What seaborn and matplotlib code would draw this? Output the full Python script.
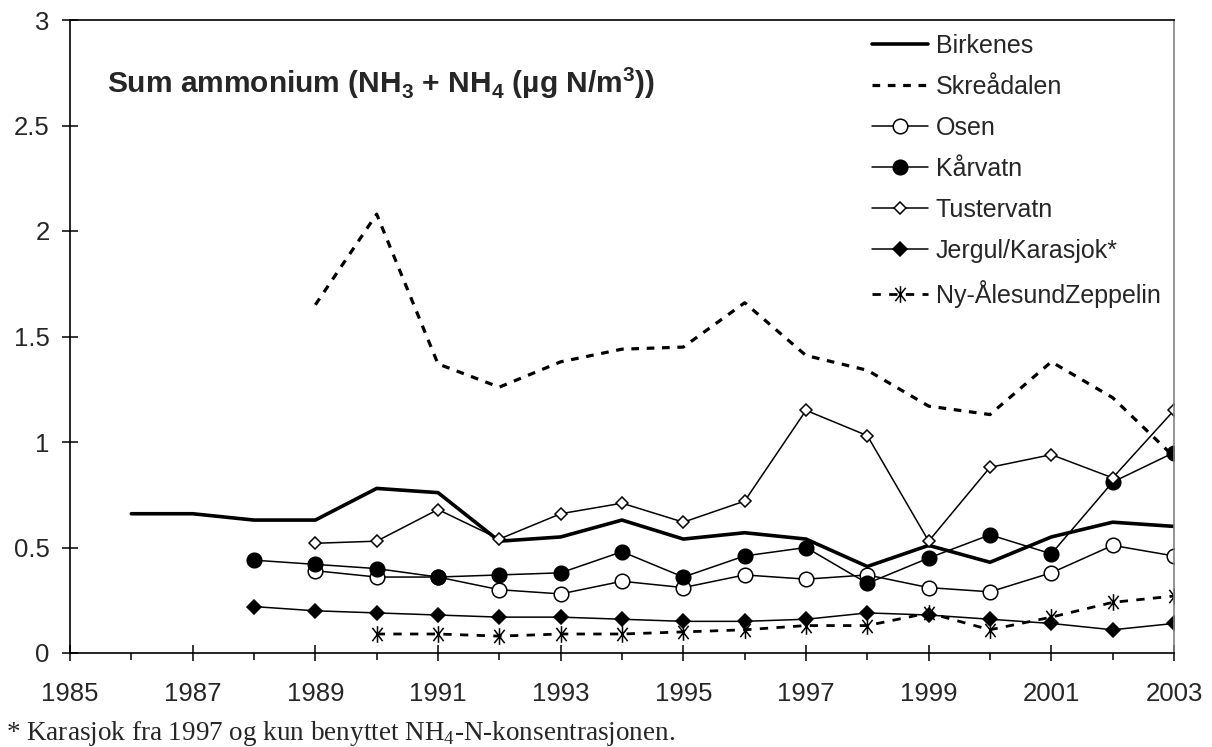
import numpy as np
import pandas as pd
import matplotlib
matplotlib.use("Agg")
import matplotlib.pyplot as plt
from matplotlib.path import Path
from matplotlib.ticker import FixedLocator, FuncFormatter
import seaborn as sns

# data (ug N/m3)
years_birkenes = [1986, 1987, 1988, 1989, 1990, 1991, 1992, 1993, 1994, 1995, 1996, 1997, 1998, 1999, 2000, 2001, 2002, 2003]
birkenes = [0.66, 0.66, 0.63, 0.63, 0.78, 0.76, 0.53, 0.55, 0.63, 0.54, 0.57, 0.54, 0.41, 0.51, 0.43, 0.55, 0.62, 0.60]

years_skreaadalen = [1989, 1990, 1991, 1992, 1993, 1994, 1995, 1996, 1997, 1998, 1999, 2000, 2001, 2002, 2003]
skreaadalen = [1.65, 2.08, 1.37, 1.26, 1.38, 1.44, 1.45, 1.66, 1.41, 1.34, 1.17, 1.13, 1.38, 1.21, 0.93]

years_osen = [1989, 1990, 1991, 1992, 1993, 1994, 1995, 1996, 1997, 1998, 1999, 2000, 2001, 2002, 2003]
osen = [0.39, 0.36, 0.36, 0.30, 0.28, 0.34, 0.31, 0.37, 0.35, 0.37, 0.31, 0.29, 0.38, 0.51, 0.46]

years_kaarvatn = [1988, 1989, 1990, 1991, 1992, 1993, 1994, 1995, 1996, 1997, 1998, 1999, 2000, 2001, 2002, 2003]
kaarvatn = [0.44, 0.42, 0.40, 0.36, 0.37, 0.38, 0.48, 0.36, 0.46, 0.50, 0.33, 0.45, 0.56, 0.47, 0.81, 0.95]

years_tustervatn = [1989, 1990, 1991, 1992, 1993, 1994, 1995, 1996, 1997, 1998, 1999, 2000, 2001, 2002, 2003]
tustervatn = [0.52, 0.53, 0.68, 0.54, 0.66, 0.71, 0.62, 0.72, 1.15, 1.03, 0.53, 0.88, 0.94, 0.83, 1.15]

years_jergul = [1988, 1989, 1990, 1991, 1992, 1993, 1994, 1995, 1996, 1997, 1998, 1999, 2000, 2001, 2002, 2003]
jergul = [0.22, 0.20, 0.19, 0.18, 0.17, 0.17, 0.16, 0.15, 0.15, 0.16, 0.19, 0.18, 0.16, 0.14, 0.11, 0.14]

years_nyaalesund = [1990, 1991, 1992, 1993, 1994, 1995, 1996, 1997, 1998, 1999, 2000, 2001, 2002, 2003]
nyaalesund = [0.09, 0.09, 0.08, 0.09, 0.09, 0.10, 0.11, 0.13, 0.13, 0.19, 0.11, 0.17, 0.24, 0.27]

sns.set_style("white")
plt.rcParams['font.family'] = ['Liberation Sans', 'DejaVu Sans']
plt.rcParams['mathtext.fontset'] = 'custom'
plt.rcParams['mathtext.rm'] = 'Liberation Serif'
plt.rcParams['mathtext.bf'] = 'Liberation Sans:bold'

# asterisk marker: vertical bar + X
star = Path([(0, -1), (0, 1), (-0.62, -0.8), (0.62, 0.8), (-0.62, 0.8), (0.62, -0.8)],
            [Path.MOVETO, Path.LINETO] * 3)

fig = plt.figure(figsize=(12.12, 7.47), dpi=100)
ax = fig.add_axes([70 / 1212, 94 / 747, 1104 / 1212, 633 / 747])

series = [
    ("Birkenes", years_birkenes, birkenes,
     dict(linewidth=2.6, linestyle='-', marker=None)),
    ("Skreådalen", years_skreaadalen, skreaadalen,
     dict(linewidth=2.3, linestyle=(0, (2.4, 2.4)), marker=None)),
    ("Osen", years_osen, osen,
     dict(linewidth=1.1, marker='o', markersize=10.5, markerfacecolor='white')),
    ("Kårvatn", years_kaarvatn, kaarvatn,
     dict(linewidth=1.1, marker='o', markersize=10.5, markerfacecolor='black')),
    ("Tustervatn", years_tustervatn, tustervatn,
     dict(linewidth=1.1, marker='D', markersize=6.5, markerfacecolor='white')),
    ("Jergul/Karasjok*", years_jergul, jergul,
     dict(linewidth=1.1, marker='D', markersize=6.8, markerfacecolor='black')),
    ("Ny-ÅlesundZeppelin", years_nyaalesund, nyaalesund,
     dict(linewidth=2.0, linestyle=(0, (3, 3)), marker=star, markersize=12,
          markerfacecolor='none')),
]

for name, xs, ys, style in series:
    df = pd.DataFrame({"year": xs, "value": ys})
    sns.lineplot(data=df, x="year", y="value", ax=ax, color='black', label=name,
                 markeredgecolor='black', markeredgewidth=1.1, errorbar=None,
                 sort=False, **style)

ax.set_xlim(1985, 2003)
ax.set_ylim(0, 3)
ax.set_xlabel("")
ax.set_ylabel("")

ax.xaxis.set_major_locator(FixedLocator(list(range(1985, 2004, 2))))
ax.xaxis.set_minor_locator(FixedLocator(list(range(1985, 2004))))
ax.yaxis.set_major_locator(FixedLocator([0, 0.5, 1, 1.5, 2, 2.5, 3]))
ax.yaxis.set_major_formatter(FuncFormatter(lambda v, p: "{:g}".format(v)))

ax.tick_params(axis='x', which='major', direction='inout', length=11.5, width=1.1,
               labelsize=18.5, pad=15, bottom=True, color='black')
ax.tick_params(axis='x', which='minor', direction='out', length=5, width=1.1,
               bottom=True, color='black')
ax.tick_params(axis='y', which='major', direction='inout', length=11.5, width=1.1,
               labelsize=18.5, pad=9, left=True, color='black')

for side in ['left', 'bottom', 'top']:
    ax.spines[side].set_color('black')
    ax.spines[side].set_linewidth(1.2)
ax.spines['right'].set_color('#808080')
ax.spines['right'].set_linewidth(1.2)

leg = ax.legend(loc='upper left', bbox_to_anchor=(872 / 1212, (747 - 34) / 747),
                bbox_transform=fig.transFigure, frameon=False, fontsize=18,
                handlelength=2.25, handletextpad=0.3, labelspacing=0.68,
                borderpad=0, borderaxespad=0, numpoints=1)

fig.text(107 / 1212, (747 - 93) / 747,
         r"Sum ammonium (NH$_\mathbf{3}$ + NH$_\mathbf{4}$ (µg N/m$^\mathbf{3}$))",
         fontsize=21.5, fontweight='bold', va='baseline', ha='left')

fig.text(6 / 1212, (747 - 740) / 747,
         r"* Karasjok fra 1997 og kun benyttet NH$_4$-N-konsentrasjonen.",
         fontsize=19.5, family=['Liberation Serif', 'DejaVu Serif'], va='baseline', ha='left')

fig.savefig("out.png", dpi=100)
